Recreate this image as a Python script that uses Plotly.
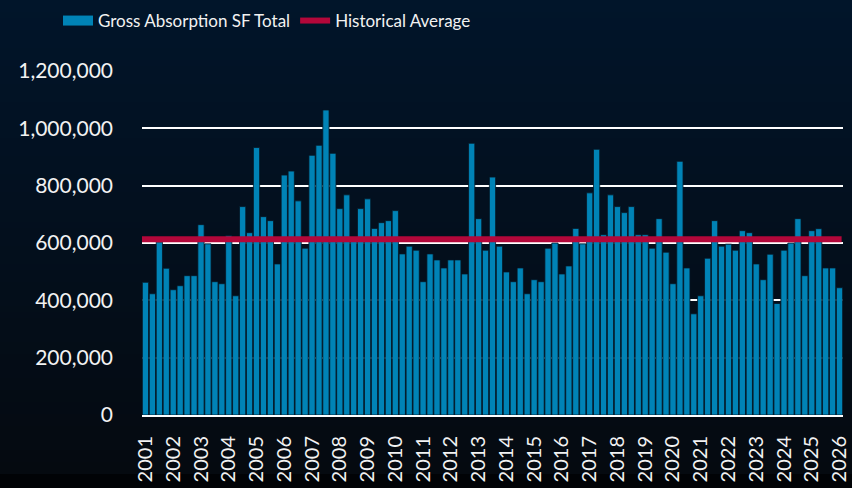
import numpy as np
import plotly.graph_objects as go

# ---------------- data ----------------
years = list(range(2001, 2027))
year_labels = [str(y) for y in years]
quarters_per_year = 4

gross_absorption = [
    463000, 423000, 603000, 512000, 437000, 451000, 486000, 486000,
    664000, 597000, 465000, 458000, 625000, 416000, 727000, 636000,
    933000, 692000, 678000, 527000, 837000, 851000, 747000, 582000,
    906000, 941000, 1064000, 913000, 720000, 768000, 615000, 720000,
    754000, 651000, 671000, 678000, 713000, 562000, 589000, 575000,
    465000, 562000, 541000, 513000, 541000, 541000, 492000, 948000,
    685000, 575000, 830000, 589000, 499000, 465000, 513000, 423000,
    472000, 465000, 582000, 600000, 492000, 520000, 651000, 597000,
    775000, 927000, 629000, 768000, 727000, 706000, 727000, 629000,
    629000, 582000, 685000, 568000, 458000, 885000, 513000, 353000,
    416000, 547000, 678000, 589000, 596000, 575000, 643000, 636000,
    527000, 472000, 561000, 389000, 575000, 600000, 685000, 486000,
    643000, 650000, 513000, 513000, 444000,
]
historical_average = 613000

y_tick_values = [0, 200000, 400000, 600000, 800000, 1000000, 1200000]
y_tick_labels = ["0", "200,000", "400,000", "600,000", "800,000", "1,000,000", "1,200,000"]

series_names = ["Gross Absorption SF Total", "Historical Average"]

# ---------------- style ----------------
BLUE = "#0083b6"
RED = "#b3073a"
TEXT = "#f2f2f2"
W, H = 852, 488
M_L, M_R, M_T, M_B = 142, 9, 71, 73
FONT = "Lato"

pos = np.arange(len(gross_absorption))
tick_pos = [i * quarters_per_year for i in range(len(years))]

fig = go.Figure()
fig.add_bar(
    x=pos, y=gross_absorption, name=series_names[0], showlegend=False,
    marker=dict(color=BLUE, line=dict(color="#061624", width=0.8)),
)
# legend swatch for the bars (wide rectangle like the original)
fig.add_scatter(
    x=[None], y=[None], mode="lines", name=series_names[0],
    line=dict(color=BLUE, width=12),
)
fig.add_scatter(
    x=[pos[0] - 0.5, pos[-1] + 0.3],
    y=[historical_average, historical_average],
    mode="lines", name=series_names[1],
    line=dict(color=RED, width=6),
)

# background gradient bands (pixel rows -> paper coords)
plot_h = H - M_T - M_B
plot_w = W - M_L - M_R
def paper_y(py):
    return (H - M_B - py) / plot_h

stops = [(0, (1, 21, 42)), (240, (3, 15, 29)), (474, (5, 10, 16)), (476, (1, 3, 6)), (488, (1, 3, 6))]
def col_at(py):
    for (a, ca), (b, cb) in zip(stops[:-1], stops[1:]):
        if a <= py <= b:
            t = 0 if b == a else (py - a) / (b - a)
            c = [round(ca[k] + (cb[k] - ca[k]) * t) for k in range(3)]
            return "rgb(%d,%d,%d)" % tuple(c)
    return "rgb(1,3,6)"

shapes = []
step = 6
for py in range(0, H, step):
    shapes.append(dict(
        type="rect", xref="paper", yref="paper", layer="below",
        x0=-M_L / plot_w - 0.01, x1=1 + M_R / plot_w + 0.01,
        y0=paper_y(py + step + 1), y1=paper_y(py),
        fillcolor=col_at(py + step / 2), line=dict(width=0),
    ))

fig.update_layout(
    width=W, height=H,
    margin=dict(l=M_L, r=M_R, t=M_T, b=M_B, autoexpand=False),
    paper_bgcolor="rgb(3,14,26)",
    plot_bgcolor="rgba(0,0,0,0)",
    shapes=shapes,
    bargap=0.1,
    font=dict(family=FONT, color=TEXT),
    showlegend=True,
    legend=dict(
        orientation="h", x=(58 - M_L) / plot_w, xanchor="left",
        y=paper_y(3), yanchor="top",
        font=dict(family=FONT, size=17, color=TEXT),
        bgcolor="rgba(0,0,0,0)", itemwidth=30, tracegroupgap=0,
    ),
    xaxis=dict(
        range=[pos[0] - 0.5, pos[-1] + 0.5],
        tickmode="array", tickvals=tick_pos, ticktext=year_labels,
        tickangle=-90, tickfont=dict(family=FONT, size=20, color=TEXT),
        showgrid=False, zeroline=False, automargin=False,
        showline=True, linecolor="#ffffff", linewidth=2,
        ticks="", ticklabelstandoff=11,
    ),
    yaxis=dict(
        range=[0, 1200000],
        tickmode="array", tickvals=y_tick_values, ticktext=y_tick_labels,
        tickfont=dict(family=FONT, size=21, color=TEXT),
        showgrid=True, gridcolor="#ffffff", gridwidth=2,
        zeroline=False, showline=False, ticks="", automargin=False,
        ticklabelstandoff=28,
    ),
)

fig.write_html(
    "out.html",
    config={"displayModeBar": False},
    post_script="document.body.style.margin='0';document.body.style.background='rgb(3,14,26)';",
)
